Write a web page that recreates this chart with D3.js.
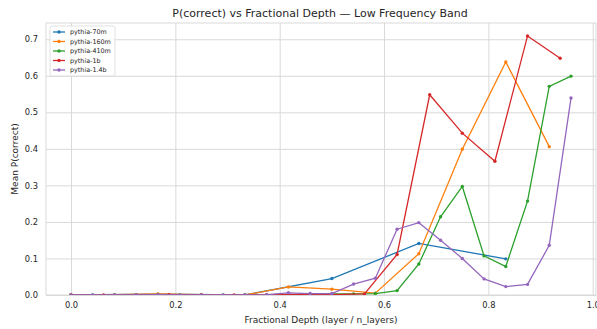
<!DOCTYPE html>
<html>
<head>
<meta charset="utf-8">
<script src="https://cdn.jsdelivr.net/npm/d3@7"></script>
<style>
  html, body { margin: 0; padding: 0; background: #fff; }
  svg { display: block; font-family: "DejaVu Sans", sans-serif; }
</style>
</head>
<body>
<svg id="chart" width="597" height="329"></svg>
<script>
// ---- data ----
const models = ["pythia-70m", "pythia-160m", "pythia-410m", "pythia-1b", "pythia-1.4b"];
const colors = ["#1f77b4", "#ff7f0e", "#2ca02c", "#d62728", "#9467bd"];
const nLayers = [6, 12, 24, 16, 24];

const p70m  = [0.000, 0.002, 0.000, 0.045, 0.141, 0.099];
const p160m = [0.000, 0.001, 0.003, 0.001, 0.000, 0.022, 0.016, 0.005, 0.113, 0.399, 0.638, 0.406];
const p410m = [0.000, 0.000, 0.000, 0.000, 0.000, 0.000, 0.000, 0.000, 0.000, 0.000, 0.001, 0.003,
               0.003, 0.003, 0.004, 0.012, 0.085, 0.214, 0.297, 0.107, 0.078, 0.257, 0.571, 0.599];
const p1b   = [0.000, 0.000, 0.000, 0.001, 0.000, 0.000, 0.001, 0.001, 0.001, 0.003, 0.111, 0.548,
               0.443, 0.366, 0.709, 0.648];
const p14b  = [0.000, 0.000, 0.000, 0.000, 0.001, 0.000, 0.000, 0.000, 0.000, 0.001, 0.006, 0.004,
               0.004, 0.030, 0.046, 0.180, 0.198, 0.150, 0.100, 0.044, 0.023, 0.029, 0.136, 0.539];
const seriesValues = [p70m, p160m, p410m, p1b, p14b];

const xTicks = [0.0, 0.2, 0.4, 0.6, 0.8, 1.0];
const yTicks = [0.0, 0.1, 0.2, 0.3, 0.4, 0.5, 0.6, 0.7];

const titleText = "P(correct) vs Fractional Depth \u2014 Low Frequency Band";
const xLabel = "Fractional Depth (layer / n_layers)";
const yLabel = "Mean P(correct)";

// ---- layout ----
const svg = d3.select("#chart");
const plot = { left: 46, right: 596, top: 23, bottom: 295 };
const gridColor = "#d9d9d9";
const textColor = "#262626";

const series = models.map((m, i) => ({
  name: m,
  color: colors[i],
  points: seriesValues[i].map((v, k) => ({ x: k / nLayers[i], y: v }))
}));

const allX = series.flatMap(s => s.points.map(p => p.x));
const xMin = d3.min(allX), xMax = d3.max(allX);
const xPad = (xMax - xMin) * 0.05;
const yMax = d3.max(series.flatMap(s => s.points.map(p => p.y)));

const x = d3.scaleLinear().domain([xMin - xPad, xMax + xPad]).range([plot.left, plot.right]);
const y = d3.scaleLinear().domain([0, yMax * 1.05]).range([plot.bottom, plot.top]);

// grid
const gx = svg.append("g").attr("transform", `translate(0,${plot.bottom})`)
  .call(d3.axisBottom(x).tickValues(xTicks).tickFormat(d3.format(".1f"))
        .tickSize(-(plot.bottom - plot.top)).tickPadding(7));
gx.select(".domain").remove();
gx.selectAll(".tick line").attr("stroke", gridColor).attr("stroke-width", 1);
gx.selectAll(".tick text").attr("fill", textColor).attr("font-size", 8.3)
  .attr("font-family", "DejaVu Sans");

const gy = svg.append("g").attr("transform", `translate(${plot.left},0)`)
  .call(d3.axisLeft(y).tickValues(yTicks).tickFormat(d3.format(".1f"))
        .tickSize(-(plot.right - plot.left)).tickPadding(8));
gy.select(".domain").remove();
gy.selectAll(".tick line").attr("stroke", gridColor).attr("stroke-width", 1);
gy.selectAll(".tick text").attr("fill", textColor).attr("font-size", 8.3)
  .attr("font-family", "DejaVu Sans");

// frame
svg.append("rect")
  .attr("x", plot.left).attr("y", plot.top)
  .attr("width", plot.right - plot.left).attr("height", plot.bottom - plot.top)
  .attr("fill", "none").attr("stroke", gridColor).attr("stroke-width", 1);

// lines (clipped to the axes area)
svg.append("clipPath").attr("id", "clip").append("rect")
  .attr("x", plot.left).attr("y", plot.top)
  .attr("width", plot.right - plot.left).attr("height", plot.bottom - plot.top);
const line = d3.line().x(d => x(d.x)).y(d => y(d.y));

const gl = svg.append("g").attr("clip-path", "url(#clip)");
series.forEach(s => {
  const g = gl.append("g");
  g.append("path").datum(s.points)
    .attr("d", line).attr("fill", "none")
    .attr("stroke", s.color).attr("stroke-width", 1.3);
  g.selectAll("circle").data(s.points).join("circle")
    .attr("cx", d => x(d.x)).attr("cy", d => y(d.y)).attr("r", 1.7)
    .attr("fill", s.color);
});

// title & labels
svg.append("text").attr("x", (plot.left + plot.right) / 2 - 1).attr("y", 17)
  .attr("text-anchor", "middle").attr("font-size", 11).attr("fill", textColor)
  .text(titleText);
svg.append("text").attr("x", (plot.left + plot.right) / 2).attr("y", 323)
  .attr("text-anchor", "middle").attr("font-size", 9).attr("fill", textColor)
  .text(xLabel);
svg.append("text").attr("transform", `translate(18,${(plot.top + plot.bottom) / 2}) rotate(-90)`)
  .attr("text-anchor", "middle").attr("font-size", 9).attr("fill", textColor)
  .text(yLabel);

// legend
const lg = svg.append("g").attr("transform", "translate(50,26)");
lg.append("rect").attr("x", 0).attr("y", 0).attr("width", 65).attr("height", 50)
  .attr("rx", 2).attr("fill", "#fff").attr("fill-opacity", 0.8)
  .attr("stroke", "#d9d9d9").attr("stroke-width", 0.8);
series.forEach((s, i) => {
  const yy = 6 + i * 9.5;
  lg.append("line").attr("x1", 3).attr("x2", 15).attr("y1", yy).attr("y2", yy)
    .attr("stroke", s.color).attr("stroke-width", 1.3);
  lg.append("circle").attr("cx", 9).attr("cy", yy).attr("r", 1.7).attr("fill", s.color);
  lg.append("text").attr("x", 20).attr("y", yy + 2.3).attr("font-size", 6.4)
    .attr("fill", textColor).text(s.name);
});
</script>
</body>
</html>
